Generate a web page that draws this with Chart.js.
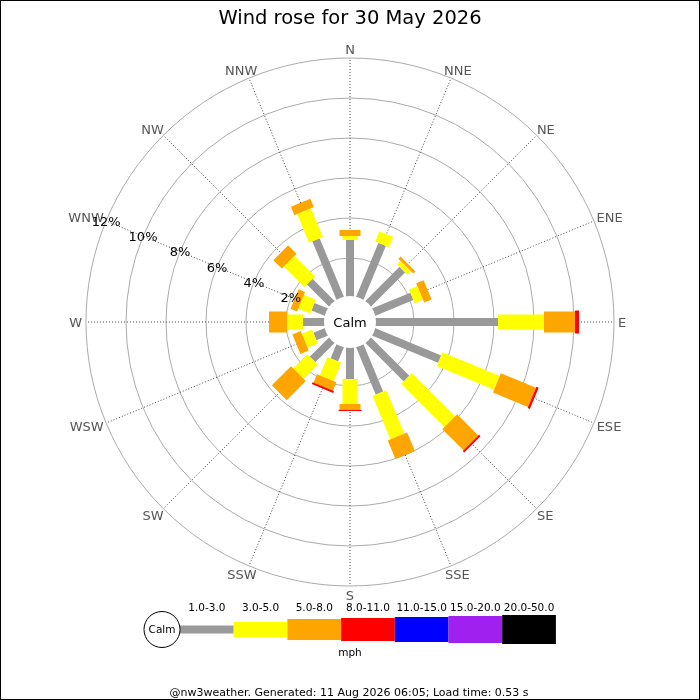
<!DOCTYPE html>
<html>
<head>
<meta charset="utf-8">
<title>Wind rose for 30 May 2026</title>
<script src="https://cdn.jsdelivr.net/npm/chart.js@4.4.1/dist/chart.umd.min.js"></script>
<style>
  html, body { margin: 0; padding: 0; background: #fff; }
  canvas { display: block; }
</style>
</head>
<body>
<canvas id="rose" width="700" height="700"></canvas>
<script>
const directions = ["N", "NNE", "NE", "ENE", "E", "ESE", "SE", "SSE",
                    "S", "SSW", "SW", "WSW", "W", "WNW", "NW", "NNW"];
const speedBands = ["1.0-3.0", "3.0-5.0", "5.0-8.0", "8.0-11.0", "11.0-15.0", "15.0-20.0", "20.0-50.0"];
const ringTicks = [2, 4, 6, 8, 10, 12];

// % of the day in each direction, one list per speed band (mph)
const band1to3   = [2.9, 3.0, 2.5, 2.15, 6.2, 3.65, 2.8, 2.65, 1.65, 0.85, 1.45, 0.7, 1.15, 0.8, 1.65, 3.25];
const band3to5   = [0.2, 0.55, 0.25, 0.45, 2.3, 3.1, 3.05, 2.35, 1.25, 1.0, 1.0, 0.55, 0.8, 0.65, 1.45, 1.55];
const band5to8   = [0.3, 0, 0.15, 0.4, 1.55, 1.9, 1.5, 1.0, 0.3, 0.45, 1.35, 0.45, 0.9, 0.35, 0.6, 0.45];
const band8to11  = [0, 0, 0, 0, 0.2, 0.12, 0.1, 0, 0.05, 0.1, 0, 0, 0, 0, 0, 0];
const band11to15 = [0, 0, 0, 0, 0, 0, 0, 0, 0, 0, 0, 0, 0, 0, 0, 0];
const band15to20 = [0, 0, 0, 0, 0, 0, 0, 0, 0, 0, 0, 0, 0, 0, 0, 0];
const band20to50 = [0, 0, 0, 0, 0, 0, 0, 0, 0, 0, 0, 0, 0, 0, 0, 0];
const bandValues = [band1to3, band3to5, band5to8, band8to11, band11to15, band15to20, band20to50];

const bandColors = ["#999999", "#ffff00", "#ffa500", "#ff0000", "#0000ff", "#a020f0", "#000000"];
const bandWidths = [8, 15, 21, 23, 25, 27, 29];
const CALM_R = 1.2;   // radius of the calm hole, in % units
const MAX_PCT = 12;
const FONT = '"DejaVu Sans", sans-serif';

// one line dataset per band, each direction a two-point segment
function bandSegments(b) {
  const pts = [];
  directions.forEach((d, i) => {
    const v = bandValues[b][i];
    if (!v) return;
    let start = CALM_R;
    for (let k = 0; k < b; k++) start += bandValues[k][i];
    const end = start + v;
    const a = i * Math.PI / 8;
    pts.push({ x: start * Math.sin(a), y: start * Math.cos(a) });
    pts.push({ x: end * Math.sin(a), y: end * Math.cos(a) });
    pts.push({ x: null, y: null });
  });
  return pts;
}

const datasets = speedBands.map((label, b) => ({
  label: label,
  data: bandSegments(b),
  showLine: true,
  borderColor: bandColors[b],
  borderWidth: bandWidths[b],
  borderCapStyle: "butt",
  pointRadius: 0,
  spanGaps: false,
  order: -b
}));

// text with its capitals centred on y
function label(ctx, str, x, y, size, color) {
  ctx.font = size + "px " + FONT;
  ctx.fillStyle = color;
  ctx.fillText(str, x, y + 0.365 * size);
}

const roseFrame = {
  id: "roseFrame",
  beforeDatasetsDraw(chart) {
    const ctx = chart.ctx;
    const xs = chart.scales.x, ys = chart.scales.y;
    const cx = xs.getPixelForValue(0), cy = ys.getPixelForValue(0);
    const unit = xs.getPixelForValue(1) - cx;
    ctx.save();
    ctx.strokeStyle = "#aaaaaa";
    ctx.lineWidth = 1;
    ringTicks.forEach((p) => {
      ctx.beginPath();
      ctx.arc(cx, cy, (p + CALM_R) * unit, 0, Math.PI * 2);
      ctx.stroke();
    });
    ctx.strokeStyle = "#444444";
    ctx.setLineDash([1, 2]);
    directions.forEach((d, i) => {
      const a = i * Math.PI / 8;
      const r = (MAX_PCT + CALM_R) * unit;
      ctx.beginPath();
      ctx.moveTo(cx, cy);
      ctx.lineTo(cx + r * Math.sin(a), cy - r * Math.cos(a));
      ctx.stroke();
    });
    ctx.restore();
  },
  afterDatasetsDraw(chart) {
    const ctx = chart.ctx;
    const xs = chart.scales.x, ys = chart.scales.y;
    const cx = xs.getPixelForValue(0), cy = ys.getPixelForValue(0);
    const unit = xs.getPixelForValue(1) - cx;
    ctx.save();
    ctx.textAlign = "center";
    ctx.textBaseline = "alphabetic";

    label(ctx, "Wind rose for 30 May 2026", 350, 16.5, 19.5, "#000000");

    // calm hole
    ctx.fillStyle = "#ffffff";
    ctx.beginPath();
    ctx.arc(cx, cy, CALM_R * unit + 2, 0, Math.PI * 2);
    ctx.fill();
    label(ctx, "Calm", cx, cy, 13, "#000000");

    // compass labels
    ctx.font = "13px " + FONT;
    directions.forEach((d, i) => {
      const a = i * Math.PI / 8;
      const w = ctx.measureText(d).width;
      const r = (MAX_PCT + CALM_R) * unit + 4;
      label(ctx, d, cx + (r + w / 2) * Math.sin(a), cy - (r + 5) * Math.cos(a), 13, "#555555");
    });

    // ring labels along WNW
    const la = 13 * Math.PI / 8;
    ringTicks.forEach((p) => {
      const r = (p + CALM_R) * unit;
      label(ctx, p + "%", cx + r * Math.sin(la), cy - r * Math.cos(la), 13, "#000000");
    });

    // speed legend
    const ly = 629.5, lx0 = 180, lw = 53.7;
    speedBands.forEach((s, b) => {
      const x = lx0 + b * lw;
      ctx.fillStyle = bandColors[b];
      ctx.fillRect(x, ly - bandWidths[b] / 2, lw, bandWidths[b]);
      label(ctx, s, x + lw / 2, 607, 10.5, "#000000");
    });
    ctx.fillStyle = "#ffffff";
    ctx.strokeStyle = "#000000";
    ctx.lineWidth = 1;
    ctx.beginPath();
    ctx.arc(162, ly, 18, 0, Math.PI * 2);
    ctx.fill();
    ctx.stroke();
    label(ctx, "Calm", 162, ly, 10.5, "#000000");
    label(ctx, "mph", 350, 652, 10.5, "#000000");

    label(ctx, "@nw3weather. Generated: 11 Aug 2026 06:05; Load time: 0.53 s", 349, 692, 11, "#000000");

    ctx.strokeStyle = "#000000";
    ctx.strokeRect(0.5, 0.5, chart.width - 1, chart.height - 1);
    ctx.restore();
  }
};

new Chart(document.getElementById("rose"), {
  type: "scatter",
  data: { datasets: datasets },
  options: {
    responsive: false,
    animation: false,
    events: [],
    layout: { padding: { left: 86, right: 86, top: 58, bottom: 114 } },
    scales: {
      x: { type: "linear", min: -(MAX_PCT + CALM_R), max: MAX_PCT + CALM_R, display: false },
      y: { type: "linear", min: -(MAX_PCT + CALM_R), max: MAX_PCT + CALM_R, display: false }
    },
    plugins: {
      legend: { display: false },
      tooltip: { enabled: false },
      title: { display: false }
    }
  },
  plugins: [roseFrame]
});
</script>
</body>
</html>
